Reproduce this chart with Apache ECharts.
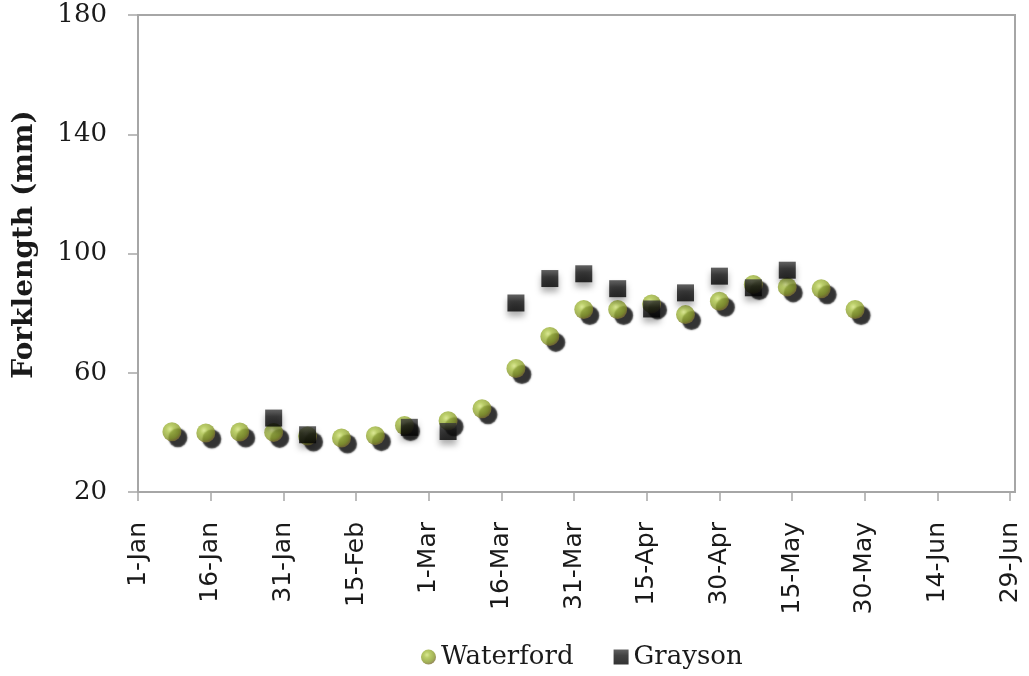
<!DOCTYPE html>
<html>
<head>
<meta charset="utf-8">
<script src="https://cdn.jsdelivr.net/npm/echarts@6/dist/echarts.min.js"></script>
<style>
html,body{margin:0;padding:0;background:#fff;}
#chart{width:1029px;height:676px;}
</style>
</head>
<body>
<div id="chart"></div>
<script>
// Days since 1-Jan (x axis), tick labels every 15 days
const tickLabels = ['1-Jan','16-Jan','31-Jan','15-Feb','1-Mar','16-Mar','31-Mar','15-Apr','30-Apr','15-May','30-May','14-Jun','29-Jun'];
const tickDays = [0,15,30,45,60,75,90,105,120,135,150,165,180];

const waterfordDays = [7,14,21,28,35,42,49,55,64,71,78,85,92,99,106,113,120,127,134,141,148];
const waterfordLength = [40.2,39.8,40.1,40.0,38.8,38.1,38.9,42.3,43.9,47.9,61.4,72.2,81.2,81.2,83.1,79.5,84.0,89.6,88.8,88.2,81.2];

const graysonDays = [28,35,56,64,78,85,92,99,106,113,120,127,134];
const graysonLength = [44.8,39.2,41.7,40.3,83.4,91.6,93.2,88.2,81.4,86.8,92.4,88.5,94.4];

const chart = echarts.init(document.getElementById('chart'));

const sphere = new echarts.graphic.RadialGradient(0.4, 0.36, 0.66, [
  {offset: 0, color: '#d2e27a'},
  {offset: 0.3, color: '#a9c143'},
  {offset: 0.75, color: '#8a9c2c'},
  {offset: 1, color: '#7a6a34'}
]);
const square = new echarts.graphic.LinearGradient(0, 0, 0, 1, [
  {offset: 0, color: '#3a3a3a'},
  {offset: 0.4, color: '#141414'},
  {offset: 1, color: '#000000'}
]);

const greyAxis = '#a6a6a6';

chart.setOption({
  animation: false,
  backgroundColor: '#ffffff',
  grid: {
    left: 138, right: 14, top: 15, bottom: 184,
    outerBoundsMode: 'none',
    containLabel: false,
    show: true, borderColor: greyAxis, borderWidth: 2, backgroundColor: 'transparent'
  },
  legend: {
    top: 639,
    left: 416,
    itemWidth: 15,
    itemHeight: 15,
    itemGap: 40,
    textStyle: {fontFamily: 'DejaVu Serif', fontSize: 26, color: '#1a1a1a'},
    data: [
      {name: 'Waterford', icon: 'circle', itemStyle: {color: sphere, shadowBlur: 0, shadowOffsetX: 0, shadowOffsetY: 0}},
      {name: 'Grayson', icon: 'rect', itemStyle: {color: square, shadowBlur: 0, shadowOffsetX: 0, shadowOffsetY: 0}}
    ]
  },
  xAxis: {
    type: 'value',
    min: 0, max: 181, interval: 15,
    splitLine: {show: false},
    axisLine: {show: true, lineStyle: {color: greyAxis, width: 2}},
    axisTick: {show: true, length: 9, customValues: tickDays, lineStyle: {color: greyAxis, width: 1.5}},
    axisLabel: {
      customValues: tickDays,
      rotate: 90,
      margin: 30,
      fontFamily: 'DejaVu Sans',
      fontSize: 25,
      color: '#1a1a1a',
      formatter: v => tickLabels[Math.round(v / 15)] || ''
    }
  },
  yAxis: {
    type: 'value',
    min: 20, max: 180, interval: 40,
    name: 'Forklength (mm)',
    nameLocation: 'middle',
    nameRotate: 90,
    nameGap: 99,
    nameTextStyle: {fontFamily: 'DejaVu Serif', fontWeight: 'bold', fontSize: 28, color: '#1a1a1a', padding: [0,0,0,18]},
    splitLine: {show: false},
    axisLine: {show: true, lineStyle: {color: greyAxis, width: 2}},
    axisTick: {show: true, length: 10, lineStyle: {color: greyAxis, width: 1.5}},
    axisLabel: {margin: 31, fontFamily: 'DejaVu Serif', fontSize: 26, color: '#1a1a1a'}
  },
  series: [
    {
      name: 'Waterford',
      type: 'scatter',
      symbol: 'circle',
      symbolSize: 19,
      data: waterfordDays.map((d, i) => [d, waterfordLength[i]]),
      itemStyle: {
        color: sphere,
        shadowColor: 'rgba(0,0,0,1)',
        shadowBlur: 1.5,
        shadowOffsetX: 6,
        shadowOffsetY: 6
      },
      z: 2
    },
    {
      name: 'Grayson',
      type: 'scatter',
      symbol: 'rect',
      symbolSize: 17,
      data: graysonDays.map((d, i) => [d, graysonLength[i]]),
      itemStyle: {
        color: square,
        shadowColor: 'rgba(0,0,0,0.4)',
        shadowBlur: 6,
        shadowOffsetX: 0,
        shadowOffsetY: 5
      },
      z: 3
    }
  ]
});
</script>
</body>
</html>
